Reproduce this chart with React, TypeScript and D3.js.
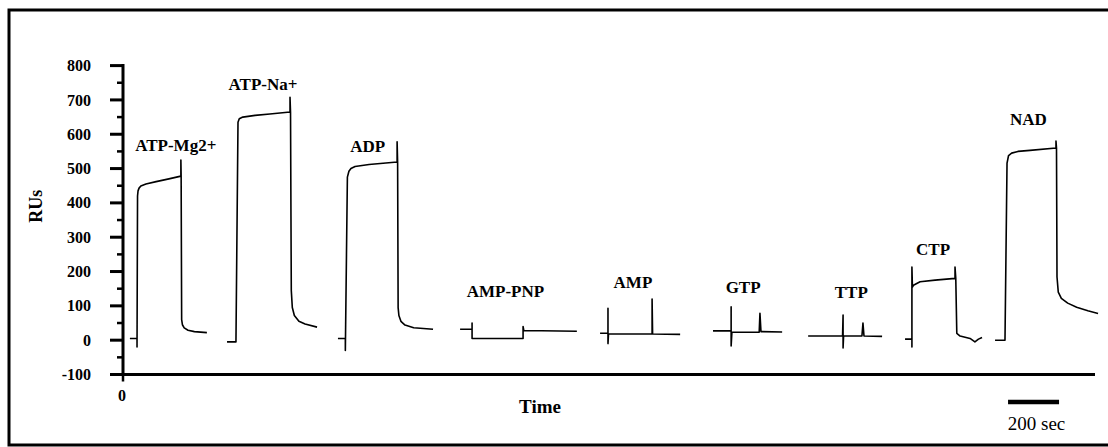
import React from "react";
import * as d3 from "d3";

// Sensorgram traces: [time (sec), response (RU)]
const atpMg: [number, number][] = [[27,5],[55,5],[55,-20],[57,420],[59,435],[63,443],[70,449],[90,455],[130,462],[180,470],[227,478],[227,525],[228,478],[230,60],[233,45],[240,36],[255,29],[280,25],[329,22]];
const atpNa: [number, number][] = [[408,-5],[443,-5],[451,635],[456,645],[470,650],[518,655],[576,659],[655,665],[655,708],[657,665],[660,145],[664,95],[672,72],[690,55],[714,47],[761,38]];
const adp: [number, number][] = [[843,5],[872,5],[872,-30],[880,475],[886,492],[894,500],[910,506],[965,512],[1075,519],[1075,578],[1077,519],[1079,95],[1082,72],[1090,55],[1106,44],[1140,36],[1216,32]];
const ampPnp: [number, number][] = [[1322,32],[1369,32],[1369,50],[1369,5],[1569,5],[1569,40],[1572,28],[1780,26]];
const amp: [number, number][] = [[1871,20],[1902,20],[1902,93],[1902,-10],[1904,18],[2075,18],[2075,120],[2077,18],[2185,17]];
const gtp: [number, number][] = [[2314,27],[2385,27],[2385,97],[2385,-17],[2388,23],[2495,23],[2498,78],[2502,25],[2585,24]];
const ttp: [number, number][] = [[2687,12],[2822,12],[2824,73],[2824,-23],[2826,12],[2898,12],[2902,50],[2906,12],[2977,11]];
const ctp: [number, number][] = [[3067,3],[3094,3],[3094,-20],[3094,213],[3096,155],[3100,160],[3126,170],[3185,175],[3263,180],[3263,213],[3266,180],[3270,20],[3283,12],[3322,5],[3341,-5],[3355,3],[3369,8]];
const nad: [number, number][] = [[3420,0],[3459,0],[3467,516],[3473,538],[3485,545],[3510,550],[3557,553],[3659,560],[3659,580],[3661,560],[3663,184],[3668,140],[3680,122],[3705,108],[3740,96],[3784,86],[3824,78]];

const traces = [atpMg, atpNa, adp, ampPnp, amp, gtp, ttp, ctp, nad];

// Labels: text, time position (sec), RU position
const labelNames = ["ATP-Mg2+", "ATP-Na+", "ADP", "AMP-PNP", "AMP", "GTP", "TTP", "CTP", "NAD"];
const labelTimes = [207, 549, 960, 1500, 2000, 2432, 2856, 3177, 3551];
const labelRUs = [550, 730, 547, 125, 151, 137, 122, 248, 626];

const yTicks = [800, 700, 600, 500, 400, 300, 200, 100, 0, -100];
const yMinor = [750, 650, 550, 450, 350, 250, 150, 50, -50];
const scaleBarSec = 200;
const scaleBarStart = 3471;

export default function App() {
  const x = d3.scaleLinear().domain([0, 3812]).range([123, 1095]);
  const y = d3.scaleLinear().domain([-100, 800]).range([374.5, 65.6]);
  const line = d3.line<[number, number]>().x(d => x(d[0])).y(d => y(d[1]));
  const serif = "'Liberation Serif', 'Times New Roman', serif";
  return (
    <svg width={1108} height={447} style={{ position: "absolute", left: 0, top: 0, background: "#fff" }}>
      <rect x={0} y={0} width={1108} height={447} fill="#fff" />
      <path d="M1120,10 L9,10 L9,445 L1120,445" fill="none" stroke="#000" strokeWidth={3} />
      {/* y axis */}
      <line x1={x(0)} x2={x(0)} y1={y(800) - 1.5} y2={y(-100) + 1.5} stroke="#000" strokeWidth={3} />
      {yTicks.map(t => (
        <g key={t}>
          <line x1={x(0) - 13} x2={x(0)} y1={y(t)} y2={y(t)} stroke="#000" strokeWidth={3} />
          <text x={91} y={y(t)} dy="0.35em" textAnchor="end" fontFamily={serif} fontWeight="bold" fontSize={16}>{t}</text>
        </g>
      ))}
      {yMinor.map(t => (
        <line key={t} x1={x(0) - 6} x2={x(0)} y1={y(t)} y2={y(t)} stroke="#000" strokeWidth={2.5} />
      ))}
      {/* x axis */}
      <line x1={110} x2={1095} y1={y(-100)} y2={y(-100)} stroke="#000" strokeWidth={3} />
      <line x1={x(0)} x2={x(0)} y1={y(-100)} y2={y(-100) + 7} stroke="#000" strokeWidth={2.5} />
      <text x={x(0) - 1} y={y(-100) + 21} dy="0.35em" textAnchor="middle" fontFamily={serif} fontWeight="bold" fontSize={16}>0</text>
      <text x={540} y={413} textAnchor="middle" fontFamily={serif} fontWeight="bold" fontSize={19}>Time</text>
      <text transform={`translate(42,${y(390)}) rotate(-90)`} textAnchor="middle" fontFamily={serif} fontWeight="bold" fontSize={18}>RUs</text>
      {/* traces */}
      {traces.map((tr, i) => (
        <path key={i} d={line(tr) || ""} fill="none" stroke="#000" strokeWidth={1.6} strokeLinejoin="round" />
      ))}
      {labelNames.map((n, i) => (
        <text key={n} x={x(labelTimes[i])} y={y(labelRUs[i])} textAnchor="middle" fontFamily={serif} fontWeight="bold" fontSize={17}>{n}</text>
      ))}
      {/* scale bar */}
      <line x1={x(scaleBarStart)} x2={x(scaleBarStart + scaleBarSec)} y1={402} y2={402} stroke="#000" strokeWidth={4.5} />
      <text x={(x(scaleBarStart) + x(scaleBarStart + scaleBarSec)) / 2 + 3} y={430} textAnchor="middle" fontFamily={serif} fontSize={19}>200 sec</text>
    </svg>
  );
}
